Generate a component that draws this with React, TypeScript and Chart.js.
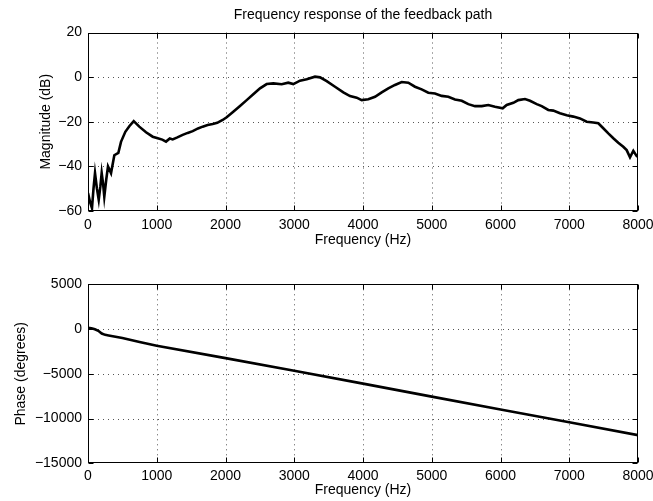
import React, { useEffect, useRef } from "react";
import { Chart, registerables } from "chart.js";

Chart.register(...registerables);

// ---- Data ----
const magFreq = [
  0, 30, 58, 80, 102, 130, 156, 180, 199, 220, 237, 265, 291, 335, 383, 441, 480, 543, 601, 665,
  746, 844, 941, 1014, 1080, 1135, 1190, 1232, 1300, 1377, 1450, 1523, 1600, 1668, 1740, 1814, 1880, 1959,
  2017, 2113, 2211, 2308, 2404, 2502, 2599, 2696, 2817, 2913, 2986, 3084, 3181, 3302, 3375, 3472, 3593,
  3714, 3811, 3908, 3981, 4077, 4175, 4272, 4368, 4465, 4563, 4659, 4756, 4853, 4950, 5047, 5144, 5241,
  5338, 5436, 5532, 5629, 5727, 5823, 5920, 6032, 6090, 6187, 6259, 6356, 6429, 6527, 6599, 6695, 6768,
  6865, 6963, 7059, 7156, 7253, 7350, 7423, 7495, 7568, 7641, 7713, 7786, 7835, 7884, 7932, 7981, 8000,
];
const magDb = [
  -52, -56, -58.7, -50, -43, -50, -55, -49, -43, -48, -53.6, -46, -40, -43, -35, -34, -29, -24.5, -22, -19.7,
  -22.2, -24.7, -26.7, -27.4, -28, -28.9, -27.5, -27.9, -27, -25.9, -25, -24.2, -23, -22.2, -21.5, -21, -20.5, -19.2,
  -18, -15.5, -12.9, -10.3, -7.7, -5, -3.1, -2.8, -3.2, -2.5, -3.1, -1.6, -1, 0.2, -0.1, -1.8, -4.3,
  -6.8, -8.5, -9.2, -10.3, -9.9, -8.8, -6.8, -5, -3.5, -2.2, -2.5, -4.3, -5.5, -7, -7.3, -8.4, -8.8,
  -10, -10.6, -12.1, -13, -13, -12.5, -13.3, -14, -12.5, -11.5, -10.3, -9.8, -10.6, -12.1, -13, -14.7, -15,
  -16.2, -17.1, -17.7, -18.5, -20, -20.3, -20.7, -22.9, -25.2, -27.4, -29.4, -31.2, -32.7, -35.9, -33, -35.4, -35.7,
];

const phaseFreq = [0, 50, 100, 150, 200, 250, 300, 500, 750, 1000, 2000, 3000, 4000, 5000, 6000, 7000, 8000];
const phaseDeg = [150, 100, -20, -200, -500, -650, -720, -1000, -1450, -1870, -3250, -4650, -6100, -7550, -8980, -10420, -11850];

const freqTicks = { min: 0, max: 8000, step: 1000 };
const magTicks = { min: -60, max: 20, step: 20 };
const phaseTicks = { min: -15000, max: 5000, step: 5000 };

const titleText = "Frequency response of the feedback path";
const xLabel = "Frequency (Hz)";
const magLabel = "Magnitude (dB)";
const phaseLabel = "Phase (degrees)";

const FONT = "'Liberation Sans', Arial, Helvetica, sans-serif";

const fmt = (v: number) => String(v).replace("-", "\u2212");

const framePlugin = {
  id: "matlabFrame",
  beforeDatasetsDraw(chart: any) {
    const { ctx, chartArea: a, scales } = chart;
    const x = scales.x;
    const y = scales.y;
    ctx.save();
    ctx.strokeStyle = "#555";
    ctx.lineWidth = 1;
    ctx.setLineDash([1, 4]);
    x.ticks.forEach((t: any) => {
      const px = Math.round(x.getPixelForValue(t.value)) + 0.5;
      if (px > a.left + 2 && px < a.right - 2) {
        ctx.beginPath();
        ctx.moveTo(px, a.top);
        ctx.lineTo(px, a.bottom);
        ctx.stroke();
      }
    });
    y.ticks.forEach((t: any) => {
      const py = Math.round(y.getPixelForValue(t.value)) + 0.5;
      if (py > a.top + 2 && py < a.bottom - 2) {
        ctx.beginPath();
        ctx.moveTo(a.left, py);
        ctx.lineTo(a.right, py);
        ctx.stroke();
      }
    });
    ctx.restore();
  },
  afterDatasetsDraw(chart: any) {
    const { ctx, chartArea: a, scales } = chart;
    const x = scales.x;
    const y = scales.y;
    const L = 5;
    ctx.save();
    ctx.strokeStyle = "#000";
    ctx.lineWidth = 1;
    ctx.setLineDash([]);
    const l = Math.round(a.left) + 0.5;
    const r = Math.round(a.right) - 0.5;
    const t = Math.round(a.top) + 0.5;
    const b = Math.round(a.bottom) - 0.5;
    ctx.strokeRect(l, t, r - l, b - t);
    ctx.beginPath();
    x.ticks.forEach((tk: any) => {
      const px = Math.round(x.getPixelForValue(tk.value)) + 0.5;
      ctx.moveTo(px, b);
      ctx.lineTo(px, b - L);
      ctx.moveTo(px, t);
      ctx.lineTo(px, t + L);
    });
    y.ticks.forEach((tk: any) => {
      const py = Math.round(y.getPixelForValue(tk.value)) + 0.5;
      ctx.moveTo(l, py);
      ctx.lineTo(l + L, py);
      ctx.moveTo(r, py);
      ctx.lineTo(r - L, py);
    });
    ctx.stroke();
    ctx.restore();
  },
};

function makeConfig(opts: {
  xs: number[];
  ys: number[];
  yTicks: { min: number; max: number; step: number };
  yLabel: string;
  yTitlePad: number;
  title?: string;
  topPad: number;
  xAxisHeight: number;
  xTitlePad: number;
  xTickPad: number;
}) {
  const font = { family: FONT, size: 14 };
  return {
    type: "line" as const,
    data: {
      datasets: [
        {
          data: opts.xs.map((f, i) => ({ x: f, y: opts.ys[i] })),
          borderColor: "#000",
          borderWidth: 2.6,
          pointRadius: 0,
          fill: false,
          tension: 0,
        },
      ],
    },
    options: {
      animation: false as const,
      responsive: false,
      devicePixelRatio: 1,
      layout: { padding: { left: 0, right: 15, top: opts.title ? 0 : opts.topPad, bottom: 0 } },
      plugins: {
        legend: { display: false },
        tooltip: { enabled: false },
        title: opts.title
          ? {
              display: true,
              text: opts.title,
              color: "#000",
              fullSize: false,
              font: { family: FONT, size: 14, weight: "normal" as const, lineHeight: 1.2 },
              padding: { top: 7, bottom: opts.topPad - 7 - 16.8 },
            }
          : { display: false },
      },
      scales: {
        x: {
          type: "linear" as const,
          min: freqTicks.min,
          max: freqTicks.max,
          ticks: {
            stepSize: freqTicks.step,
            color: "#000",
            font,
            padding: opts.xTickPad,
            maxRotation: 0,
            autoSkip: false,
            callback: (v: any) => fmt(v),
          },
          grid: { display: false, drawTicks: false },
          border: { display: false },
          title: { display: true, text: xLabel, color: "#000", font: { ...font, lineHeight: 1.2 }, padding: opts.xTitlePad },
          afterFit: (s: any) => {
            s.height = opts.xAxisHeight;
            s.paddingLeft = 0;
            s.paddingRight = 0;
          },
        },
        y: {
          type: "linear" as const,
          min: opts.yTicks.min,
          max: opts.yTicks.max,
          ticks: {
            stepSize: opts.yTicks.step,
            color: "#000",
            font,
            padding: 6,
            autoSkip: false,
            callback: (v: any) => fmt(v),
          },
          grid: { display: false, drawTicks: false },
          border: { display: false },
          title: { display: true, text: opts.yLabel, color: "#000", font: { ...font, lineHeight: 1.2 }, padding: opts.yTitlePad },
          afterFit: (s: any) => {
            s.width = 88;
            s.paddingTop = 0;
            s.paddingBottom = 0;
          },
        },
      },
    },
    plugins: [framePlugin],
  };
}

export default function App() {
  const topRef = useRef<HTMLCanvasElement>(null);
  const botRef = useRef<HTMLCanvasElement>(null);

  useEffect(() => {
    const c1 = new Chart(
      topRef.current!,
      makeConfig({
        xs: magFreq,
        ys: magDb,
        yTicks: magTicks,
        yLabel: magLabel,
        yTitlePad: 37.6,
        title: titleText,
        topPad: 32.5,
        xAxisHeight: 39,
        xTitlePad: 1.6,
        xTickPad: 6,
      }) as any
    );
    const c2 = new Chart(
      botRef.current!,
      makeConfig({
        xs: phaseFreq,
        ys: phaseDeg,
        yTicks: phaseTicks,
        yLabel: phaseLabel,
        yTitlePad: 12.6,
        topPad: 34.3,
        xAxisHeight: 37.7,
        xTitlePad: 2.6,
        xTickPad: 4,
      }) as any
    );
    return () => {
      c1.destroy();
      c2.destroy();
    };
  }, []);

  return (
    <div style={{ position: "absolute", left: 0, top: 0, width: 653, height: 501, background: "#fff" }}>
      <canvas ref={topRef} width={653} height={250} style={{ display: "block", width: 653, height: 250 }} />
      <canvas ref={botRef} width={653} height={251} style={{ display: "block", width: 653, height: 251 }} />
    </div>
  );
}
